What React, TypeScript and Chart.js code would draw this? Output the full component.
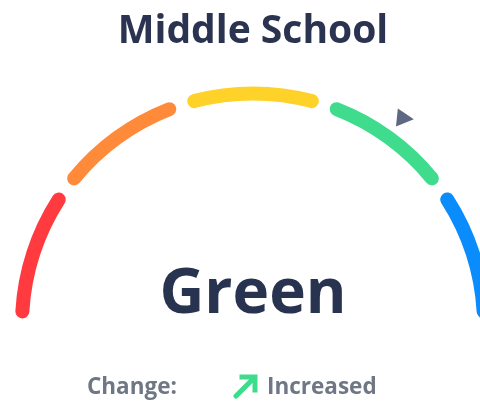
import React, { useEffect, useRef } from "react";
import { Chart, registerables } from "chart.js";

Chart.register(...registerables);

const title = "Middle School";
const statusLabel = "Green";
const changeLabel = "Change:";
const changeValue = "Increased";
const bandLabels = ["Red", "Orange", "Yellow", "Green", "Blue"];
const bandValues = [20, 20, 20, 20, 20];
const bandColors = ["#ff3b3f", "#ff8a3a", "#ffd22a", "#40dc8e", "#0a8cfc"];
const markerValue = 70; // out of 100

const FONT = "'Open Sans', 'Noto Sans', sans-serif";
const SPACING = 37;

const markerPlugin = {
  id: "gaugeMarker",
  afterDatasetsDraw(chart: any) {
    const meta = chart.getDatasetMeta(0);
    const arc = meta.data[0];
    if (!arc) return;
    const { x, y, outerRadius } = arc.getProps(["x", "y", "outerRadius"], true);
    const total = bandValues.reduce((a, b) => a + b, 0);
    const ang = -Math.PI + (markerValue / total) * Math.PI;
    const r = outerRadius + SPACING / 2 + 17;
    const cx = x + Math.cos(ang) * r;
    const cy = y + Math.sin(ang) * r;
    const ctx = chart.ctx;
    ctx.save();
    ctx.translate(cx, cy);
    ctx.rotate((6 * Math.PI) / 180);
    ctx.beginPath();
    ctx.moveTo(11, 0);
    ctx.lineTo(-6, -9);
    ctx.lineTo(-6, 9);
    ctx.closePath();
    ctx.fillStyle = "#5f6882";
    ctx.fill();
    ctx.restore();
  },
};

export default function App() {
  const ref = useRef<HTMLCanvasElement>(null);
  useEffect(() => {
    if (!ref.current) return;
    const chart = new Chart(ref.current, {
      type: "doughnut",
      data: {
        labels: bandLabels,
        datasets: [
          {
            data: bandValues,
            backgroundColor: bandColors,
            borderWidth: 0,
            borderRadius: 7,
            spacing: SPACING,
            clip: false as any,
          } as any,
        ],
      },
      options: {
        animation: false,
        responsive: false,
        rotation: -90,
        circumference: 180,
        radius: 219.5,
        cutout: "93.62%",
        layout: { padding: { left: 26, right: 0, top: 24.5, bottom: 0 } },
        plugins: {
          legend: { display: false },
          tooltip: { enabled: false },
          title: { display: false },
        },
      } as any,
      plugins: [markerPlugin],
    });
    return () => chart.destroy();
  }, []);

  const text: React.CSSProperties = {
    position: "absolute",
    whiteSpace: "nowrap",
    fontFamily: FONT,
    fontWeight: 700,
    lineHeight: 1,
    margin: 0,
  };

  return (
    <div style={{ position: "absolute", left: 0, top: 0, width: 480, height: 405, overflow: "hidden", background: "#fff" }}>
      <canvas ref={ref} width={480} height={405} style={{ position: "absolute", left: 0, top: 0, width: 480, height: 405 }} />
      <div style={{ ...text, left: 253, top: 7.5, transform: "translateX(-50%)", fontSize: 39, color: "#2a3450" }}>{title}</div>
      <div style={{ ...text, left: 253, top: 258, transform: "translateX(-50%)", fontSize: 62, color: "#283350" }}>{statusLabel}</div>
      <div style={{ ...text, left: 87, top: 375, fontSize: 22.5, color: "#6f7785" }}>{changeLabel}</div>
      <svg width={26} height={26} viewBox="0 0 26 26" style={{ position: "absolute", left: 233, top: 373 }}>
        <path d="M3 23 L21 5" stroke="#3ddc8c" strokeWidth={5} strokeLinecap="round" fill="none" />
        <path d="M9 4 L22 4 L22 17" stroke="#3ddc8c" strokeWidth={5} strokeLinecap="square" strokeLinejoin="miter" fill="none" />
      </svg>
      <div style={{ ...text, left: 267, top: 375, fontSize: 22.5, color: "#6f7785" }}>{changeValue}</div>
    </div>
  );
}
